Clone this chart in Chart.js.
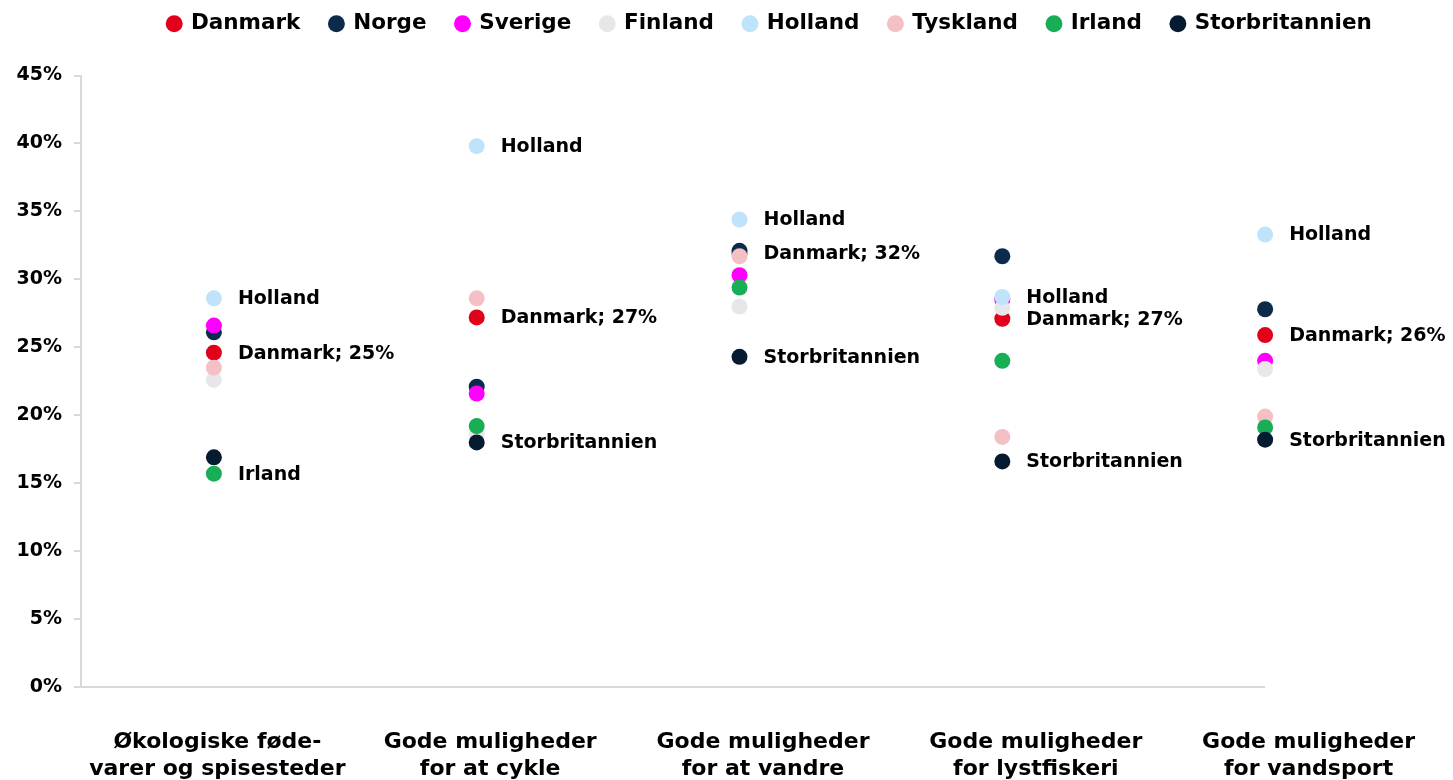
<!DOCTYPE html>
<html>
<head>
<meta charset="utf-8">
<script src="https://cdn.jsdelivr.net/npm/chart.js@4/dist/chart.umd.min.js"></script>
<style>
  html, body { margin: 0; padding: 0; background: #ffffff; }
  #wrap { width: 1453px; height: 780px; position: relative; }
</style>
</head>
<body>
<div id="wrap"><canvas id="c" width="1453" height="780"></canvas></div>
<script>
// ---- data ----
const categories = [
  ["Økologiske føde-", "varer og spisesteder"],
  ["Gode muligheder", "for at cykle"],
  ["Gode muligheder", "for at vandre"],
  ["Gode muligheder", "for lystfiskeri"],
  ["Gode muligheder", "for vandsport"]
];
const seriesNames = ["Danmark", "Norge", "Sverige", "Finland", "Holland", "Tyskland", "Irland", "Storbritannien"];
const danmark        = [24.6, 27.2, 31.9, 27.1, 25.9];
const norge          = [26.1, 22.1, 32.1, 31.7, 27.8];
const sverige        = [26.6, 21.6, 30.3, 28.5, 24.0];
const finland        = [22.6, 18.6, 28.0, 27.9, 23.4];
const holland        = [28.6, 39.8, 34.4, 28.7, 33.3];
const tyskland       = [23.5, 28.6, 31.7, 18.4, 19.9];
const irland         = [15.7, 19.2, 29.4, 24.0, 19.1];
const storbritannien = [16.9, 18.0, 24.3, 16.6, 18.2];

// point labels (text shown beside selected points)
const labelsHolland = ["Holland", "Holland", "Holland", "Holland", "Holland"];
const labelsDanmark = danmark.map(v => "Danmark; " + Math.round(v) + "%");
const labelsIrland = ["Irland", null, null, null, null];
const labelsStorbritannien = [null, "Storbritannien", "Storbritannien", "Storbritannien", "Storbritannien"];

const yTickMin = 0, yTickMax = 45, yTickStep = 5;

// ---- styles ----
const colors = ["#E2001A", "#0C2B4B", "#FF00FF", "#E7E7E9", "#BEE3FA", "#F4BFC5", "#17AE56", "#061A30"];
const FONT = "'DejaVu Sans', sans-serif";

const values = [danmark, norge, sverige, finland, holland, tyskland, irland, storbritannien];
const pointLabels = [labelsDanmark, null, null, null, labelsHolland, null, labelsIrland, labelsStorbritannien];

const datasets = seriesNames.map((name, d) => ({
  label: name,
  data: values[d].map((v, i) => ({ x: i, y: v })),
  backgroundColor: colors[d],
  borderColor: colors[d],
  pointBackgroundColor: colors[d],
  pointBorderWidth: 0,
  pointRadius: 8,
  pointHoverRadius: 8,
  showLine: false,
  order: seriesNames.length - d,
  xAxisID: 'x',
  yAxisID: 'y',
  _labels: pointLabels[d]
}));

const pointLabelPlugin = {
  id: 'pointLabelPlugin',
  afterDatasetsDraw(chart) {
    const ctx = chart.ctx;
    ctx.save();
    ctx.font = "bold 19px " + FONT;
    ctx.fillStyle = "#000000";
    ctx.textAlign = "left";
    ctx.textBaseline = "middle";
    chart.data.datasets.forEach((ds, di) => {
      if (!ds._labels) return;
      const meta = chart.getDatasetMeta(di);
      meta.data.forEach((pt, i) => {
        const t = ds._labels[i];
        if (!t) return;
        ctx.fillText(t, pt.x + 24, pt.y + 1);
      });
    });
    ctx.restore();
  }
};

const axisLinePlugin = {
  id: 'axisLinePlugin',
  beforeDatasetsDraw(chart) {
    const xs = chart.scales.x, ys = chart.scales.y;
    const ctx = chart.ctx;
    const y0 = ys.getPixelForValue(yTickMin);
    ctx.save();
    ctx.strokeStyle = "#D9D9D9";
    ctx.lineWidth = 2;
    ctx.beginPath();
    ctx.moveTo(chart.chartArea.left, y0);
    ctx.lineTo(xs.getPixelForValue(categories.length - 1), y0);
    ctx.stroke();
    ctx.restore();
  }
};

const legendShiftPlugin = {
  id: 'legendShiftPlugin',
  afterLayout(chart) {
    const lg = chart.legend;
    if (lg) { lg.left += 47; lg.right += 47; lg.top -= 31; lg.bottom -= 31; }
  }
};

new Chart(document.getElementById('c'), {
  type: 'line',
  data: { datasets },
  plugins: [axisLinePlugin, pointLabelPlugin, legendShiftPlugin],
  options: {
    responsive: false,
    animation: false,
    layout: { padding: { left: 0, right: 7, top: 14, bottom: 0 } },
    plugins: {
      tooltip: { enabled: false },
      legend: {
        position: 'top',
        align: 'center',
        labels: {
          usePointStyle: true,
          pointStyle: 'circle',
          boxWidth: 12,
          boxHeight: 12,
          padding: 30,
          color: '#000000',
          font: { family: FONT, size: 21.5, weight: 'bold' },
          sort: (a, b) => a.datasetIndex - b.datasetIndex
        }
      }
    },
    scales: {
      x: {
        type: 'linear',
        display: false,
        min: -0.5057,
        max: -0.5057 + 1365 / 263
      },
      x2: {
        type: 'category',
        position: 'bottom',
        labels: categories,
        offset: true,
        grid: { display: false },
        border: { display: false },
        ticks: {
          color: '#000000',
          font: { family: FONT, size: 22, weight: 'bold', lineHeight: 1.22 },
          padding: 34,
          maxRotation: 0,
          autoSkip: false
        },
        afterFit(scale) { scale.height = 93; }
      },
      y: {
        min: yTickMin,
        max: yTickMax,
        ticks: {
          stepSize: yTickStep,
          color: '#000000',
          padding: 12,
          font: { family: FONT, size: 19, weight: 'bold' },
          callback: v => v + '%'
        },
        grid: { drawOnChartArea: false, drawTicks: true, tickLength: 7, color: '#D9D9D9', lineWidth: 2 },
        border: { display: true, color: '#D9D9D9', width: 2 },
        afterFit(scale) { scale.width = 81; }
      }
    }
  }
});
</script>
</body>
</html>
